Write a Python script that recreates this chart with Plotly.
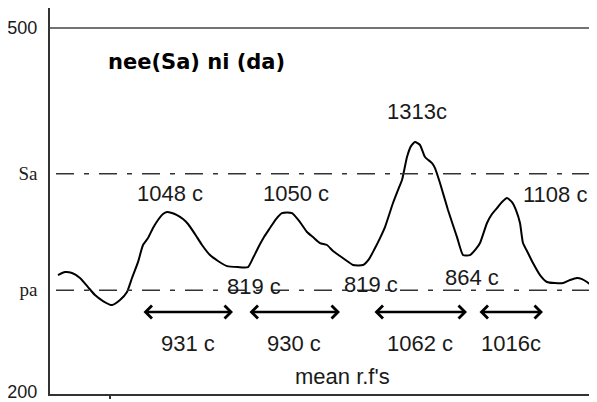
import plotly.graph_objects as go

# trace of the recording (time index, level)
t = [8, 15, 22, 30, 38, 45, 53, 62, 70, 77, 82, 88, 93, 98, 103, 108, 113, 117, 122, 127,
     133, 138, 145, 152, 160, 168, 177, 188, 198, 203, 208, 214, 220, 226, 232, 242, 250, 257,
     263, 270, 277, 283, 290, 297, 303, 313, 319, 324, 330, 335, 343, 348, 352, 357, 361, 365,
     370, 375, 382, 385, 390, 398, 407, 413, 420, 426, 430, 437, 442, 447, 452, 457, 462, 466,
     470, 473, 478, 483, 490, 497, 505, 513, 520, 527, 532, 537, 542, 547]
level = [296.4, 298.9, 298.1, 294.0, 286.5, 279.9, 275.0, 271.7, 275.8, 282.4, 294.0, 307.1,
         321.2, 326.9, 335.2, 341.8, 346.7, 348.4, 347.5, 345.9, 342.6, 338.5, 330.2, 321.2,
         312.9, 308.0, 303.8, 303.0, 303.0, 310.4, 318.7, 327.7, 335.2, 342.6, 347.5, 347.5,
         340.1, 331.9, 327.7, 322.8, 321.2, 316.2, 312.1, 308.0, 304.7, 304.7, 309.6, 317.0,
         326.9, 336.0, 355.8, 366.5, 374.7, 393.7, 402.7, 406.0, 403.6, 393.7, 388.7, 384.6,
         372.3, 350.0, 327.7, 312.9, 312.9, 317.9, 322.8, 339.3, 346.7, 351.6, 356.6, 359.9,
         356.6, 350.0, 339.3, 322.8, 314.6, 306.3, 296.4, 290.7, 289.8, 289.8, 292.3, 294.0,
         293.1, 290.7, 287.4, 284.0]

# reference levels
sa_level = 380
pa_level = 284
y_ticks = [500, sa_level, pa_level, 200]
y_ticktext = ["500", "<span style='font-family:Liberation Serif;font-size:19px'>Sa</span>",
              "<span style='font-family:Liberation Serif;font-size:19px'>pa</span>", "200"]

# peak / trough labels
peak_labels = ["1048 c", "1050 c", "1313c", "1108 c"]
peak_x = [120, 246, 367, 505]
peak_y = [364, 364, 431, 363]
trough_labels = ["819 c", "819 c", "864 c"]
trough_x = [204, 321, 422]
trough_y = [287, 289, 294]

# interval arrows
span_start = [92, 198, 323, 428]
span_end = [183, 290, 417, 493]
span_labels = ["931 c", "930 c", "1062 c", "1016c"]
span_y = 266
span_label_y = 240

INK = "#1a1a1a"
FONT = "Liberation Sans"

fig = go.Figure()
fig.add_trace(go.Scatter(x=t, y=level, mode="lines",
                         line=dict(color="black", width=2, shape="spline", smoothing=0.5),
                         hoverinfo="skip", showlegend=False))

# dashed reference lines and top line
for lv in [sa_level, pa_level]:
    fig.add_shape(type="line", x0=6, x1=547, y0=lv, y1=lv,
                  line=dict(color="#333", width=1.5, dash="18px,10px,5px,10px"))
fig.add_shape(type="line", x0=0, x1=547, y0=500, y1=500, line=dict(color="#444", width=1.5))

anns = []
for txt, x, y in zip(peak_labels, peak_x, peak_y):
    anns.append(dict(x=x, y=y, text=txt, showarrow=False, font=dict(size=22, color=INK, family=FONT)))
for txt, x, y in zip(trough_labels, trough_x, trough_y):
    anns.append(dict(x=x, y=y, text=txt, showarrow=False, font=dict(size=22, color=INK, family=FONT)))
for s, e, txt in zip(span_start, span_end, span_labels):
    anns.append(dict(x=e, y=span_y, ax=s, ay=span_y, axref="x", ayref="y", text="",
                     showarrow=True, arrowhead=4, startarrowhead=4, arrowside="end+start",
                     arrowwidth=2.5, arrowsize=1, startarrowsize=1, arrowcolor="black"))
    anns.append(dict(x=(s + e) / 2, y=span_label_y, text=txt, showarrow=False,
                     font=dict(size=22, color=INK, family=FONT)))
anns.append(dict(x=292, y=213, text="mean r.f's", showarrow=False,
                 font=dict(size=22, color=INK, family=FONT)))
anns.append(dict(x=56, y=472, text="<b>nee(Sa) ni (da)</b>", showarrow=False, xanchor="left",
                 font=dict(size=21, color="black", family="DejaVu Sans")))

# the page body adds an 8px margin, so the figure is sized to end at the window edge
fig.update_layout(
    width=589, height=394,
    margin=dict(l=42, r=0, t=0, b=8),
    paper_bgcolor="white", plot_bgcolor="white",
    annotations=anns,
    xaxis=dict(range=[0, 547], showgrid=False, zeroline=False, showticklabels=False,
               tickvals=[60], ticks="outside", ticklen=3, tickcolor="#333", tickwidth=1.5,
               showline=True, linecolor="#333", linewidth=2),
    yaxis=dict(range=[198.4, 516.5], showgrid=False, zeroline=False, automargin=False,
               tickvals=y_ticks, ticktext=y_ticktext, ticks="",
               ticklabelstandoff=7, ticklabeloverflow="allow",
               tickfont=dict(size=18, color=INK, family=FONT),
               showline=True, linecolor="#333", linewidth=2),
)

fig.write_html("out.html")
